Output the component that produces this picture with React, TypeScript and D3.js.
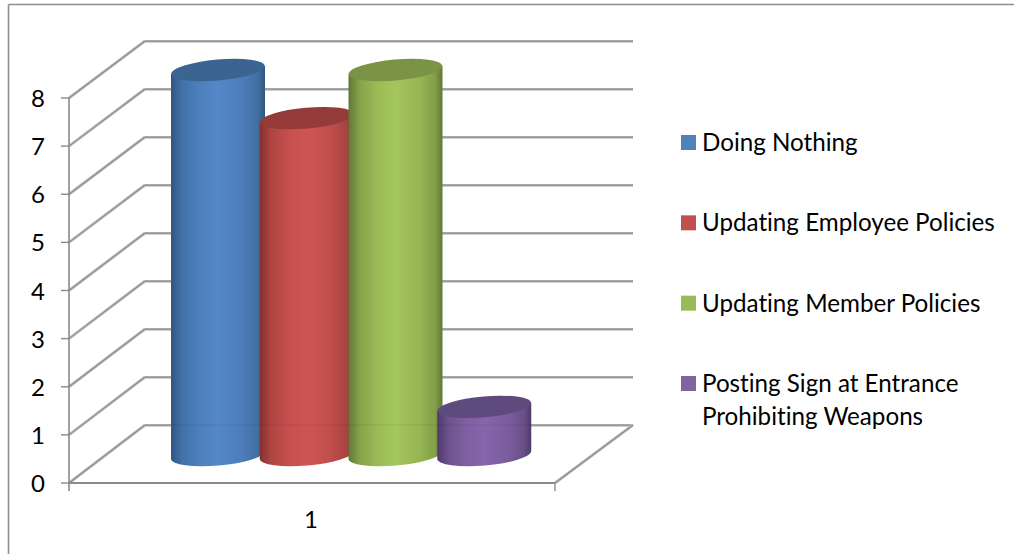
import React from 'react'
import * as d3 from 'd3'

const seriesNames = ['Doing Nothing', 'Updating Employee Policies', 'Updating Member Policies', 'Posting Sign at Entrance Prohibiting Weapons']
const seriesValues = [8, 7, 8, 1]
const yTicks = [0, 1, 2, 3, 4, 5, 6, 7, 8]
const categories = ['1']

const bodyEdge = ['#2f5680', '#85312f', '#617835', '#4e3b69']
const bodyMid = ['#5487c8', '#cf5552', '#a5c65c', '#8665ab']
const topFill = ['#3c6491', '#943b39', '#7b9345', '#5f4a7e']
const legendFill = ['#4f81bd', '#c0504d', '#9bbb59', '#8064a2']

const legendLines = [['Doing Nothing'], ['Updating Employee Policies'], ['Updating Member Policies'], ['Posting Sign at Entrance', 'Prohibiting Weapons']]

const FONT = 'Lato, "Open Sans", sans-serif'
const GRID = '#8a8a8a'

const App: React.FC = () => {
  // front edge of the floor, the back wall sits up and to the right of it
  const yFront = d3.scaleLinear().domain([0, 8]).range([483, 98])
  const yBack = d3.scaleLinear().domain([0, 8]).range([425, 41])
  const yBar = d3.scaleLinear().domain([0, 8]).range([455, 70])
  const x = d3.scaleBand<string>().domain(seriesNames).range([171, 526]).paddingInner(0)

  const frontLeft = 69
  const frontRight = 555
  const backLeft = 145
  const backRight = 633
  const barW = 94
  const rx = barW / 2
  const ry = 10.5
  const tilt = -5

  const legendY = d3.scalePoint<string>().domain(seriesNames).range([143, 384])

  return (
    <svg width={1014} height={554} style={{ position: 'absolute', left: 0, top: 0, display: 'block', fontVariantLigatures: 'none' }} fontFamily={FONT}>
      <defs>
        {seriesNames.map((s, i) => (
          <linearGradient key={s} id={`cyl${i}`} x1="0" x2="1" y1="0" y2="0">
            <stop offset="0" stopColor={bodyEdge[i]} />
            <stop offset="0.12" stopColor={d3.interpolateRgb(bodyEdge[i], bodyMid[i])(0.55)} />
            <stop offset="0.3" stopColor={d3.interpolateRgb(bodyEdge[i], bodyMid[i])(0.85)} />
            <stop offset="0.5" stopColor={bodyMid[i]} />
            <stop offset="0.75" stopColor={d3.interpolateRgb(bodyEdge[i], bodyMid[i])(0.8)} />
            <stop offset="0.92" stopColor={d3.interpolateRgb(bodyEdge[i], bodyMid[i])(0.5)} />
            <stop offset="1" stopColor={bodyEdge[i]} />
          </linearGradient>
        ))}
      </defs>

      {/* outer frame, only the top and left edges are in the picture */}
      <g stroke="#8e8e8e" strokeWidth={1.6}>
        <line x1={8.5} x2={1014} y1={4.5} y2={4.5} />
        <line x1={8.5} x2={8.5} y1={4.5} y2={554} />
      </g>

      {/* walls and floor */}
      <g fill="none" stroke={GRID}>
        {yTicks.map(t => (
          <g key={t}>
            <line x1={frontLeft} x2={backLeft} y1={yFront(t)} y2={yBack(t)} stroke="#c4c4c4" strokeWidth={3} />
            <line x1={frontLeft} x2={backLeft} y1={yFront(t)} y2={yBack(t)} strokeWidth={1.2} />
            <line x1={backLeft} x2={backRight} y1={yBack(t) + 1} y2={yBack(t) + 1} stroke="#d0d0d0" strokeWidth={2} />
            <line x1={backLeft} x2={backRight} y1={yBack(t)} y2={yBack(t)} strokeWidth={1.6} />
            <line x1={frontLeft - 8} x2={frontLeft} y1={yFront(t)} y2={yFront(t)} strokeWidth={1.4} />
          </g>
        ))}
        <line x1={frontLeft} x2={frontLeft} y1={yFront(8)} y2={yFront(0) + 8} strokeWidth={1.6} />
        <line x1={frontLeft} x2={frontRight} y1={yFront(0)} y2={yFront(0)} strokeWidth={2} />
        <line x1={frontRight} x2={frontRight} y1={yFront(0)} y2={yFront(0) + 8} strokeWidth={1.4} />
        <line x1={frontRight} x2={backRight} y1={yFront(0)} y2={yBack(0)} stroke="#c4c4c4" strokeWidth={3} />
        <line x1={frontRight} x2={backRight} y1={yFront(0)} y2={yBack(0)} strokeWidth={1.2} />
      </g>

      {/* cylinders */}
      {seriesNames.map((s, i) => {
        const x0 = x(s) as number
        const cx = x0 + rx
        const top = yBar(seriesValues[i])
        const base = yBar(0)
        const dy = rx * Math.tan((-tilt * Math.PI) / 180)
        const body = `M${x0},${top + dy} L${x0 + barW},${top - dy} L${x0 + barW},${base - dy} A${rx},${ry} ${tilt} 0 1 ${x0},${base + dy} Z`
        return (
          <g key={s}>
            <path d={body} fill={`url(#cyl${i})`} />
            <line x1={x0} x2={x0 + barW} y1={yBack(0)} y2={yBack(0)} stroke="#000" strokeOpacity={0.06} strokeWidth={1.5} />
            <ellipse cx={cx} cy={top} rx={rx} ry={ry} fill={topFill[i]} transform={`rotate(${tilt} ${cx} ${top})`} />
          </g>
        )
      })}

      {/* axis labels */}
      {yTicks.map(t => (
        <text key={t} x={frontLeft - 24} y={yFront(t) + 9} fontSize={24} textAnchor="end" fill="#000">{t}</text>
      ))}
      {categories.map(c => (
        <text key={c} x={311} y={528} fontSize={24} textAnchor="middle" fill="#000">{c}</text>
      ))}

      {/* legend */}
      {seriesNames.map((s, i) => {
        const ly = legendY(s) as number
        return (
          <g key={s}>
            <rect x={681} y={ly - 8} width={15} height={15} fill={legendFill[i]} />
            {legendLines[i].map((l, j) => (
              <text key={l} x={702} y={ly + 8 + j * 33} fontSize={24.2} fill="#000">{l}</text>
            ))}
          </g>
        )
      })}
    </svg>
  )
}

export default App
